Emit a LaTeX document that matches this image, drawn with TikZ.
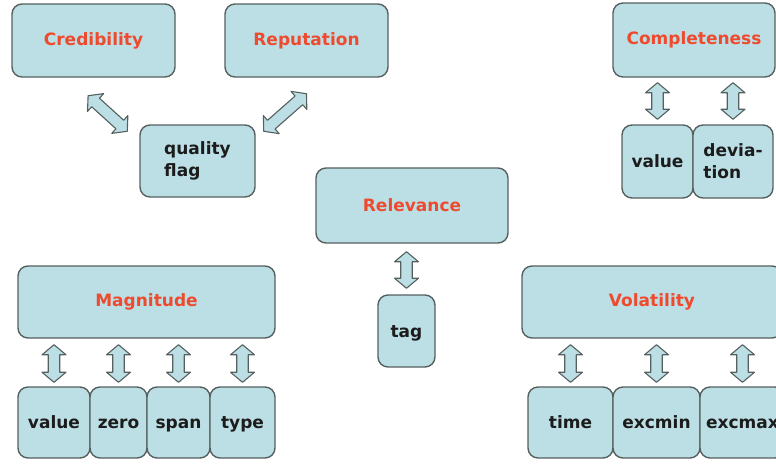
\documentclass[tikz,border=0pt]{standalone}
\usepackage{fontspec}
\setmainfont{DejaVu Sans}
\usetikzlibrary{calc,shapes.arrows}
\definecolor{boxfill}{HTML}{BCDFE5}
\definecolor{boxline}{HTML}{55605F}
\definecolor{titlered}{HTML}{EE4A2E}
\definecolor{darktext}{HTML}{1C1C1C}
\tikzset{
  box/.style={draw=boxline, fill=boxfill, line width=1.4pt, rounded corners=10pt,
    inner sep=0pt, font=\fontsize{17}{22}\selectfont\bfseries, text=darktext},
  onebox/.style={box, text height=12.5pt, text depth=-1pt},
  titlebox/.style={box, text=titlered},
  darrow/.style={double arrow, draw=boxline, fill=boxfill, line width=1.1pt,
    inner xsep=0pt, inner ysep=5pt, minimum width=24pt, double arrow head extend=6pt,
    double arrow tip angle=100, line join=round}
}
\newcommand\link[2]{\path let \p1=(#1), \p2=(#2),
  \n1={atan2(\y2-\y1,\x2-\x1)}, \n2={veclen(\x2-\x1,\y2-\y1)} in
  node[darrow, rotate=\n1, minimum height=\n2] at ($(#1)!0.5!(#2)$) {};}
\begin{document}
\begin{tikzpicture}[x=1pt,y=-1pt]
\useasboundingbox (0,0) rectangle (776,464);
\begin{scope}
\clip (0,0) rectangle (776,464);
% top-left group
\node[titlebox, minimum width=163pt, minimum height=73pt] (cred) at (93.5,40.5) {Credibility};
\node[titlebox, minimum width=163pt, minimum height=73pt] (rep) at (306.5,40.5) {Reputation};
\node[box, minimum width=115pt, minimum height=72pt, align=left] (qf) at (197.5,161) {quality\\flag};
% completeness group
\node[titlebox, minimum width=162pt, minimum height=74pt] (comp) at (694,40) {Completeness};
\node[onebox, minimum width=71pt, minimum height=73pt] (cval) at (657.5,161.5) {value};
\node[box, minimum width=80pt, minimum height=73pt, align=left] (cdev) at (733,161.5) {devia-\\tion};
% relevance group
\node[titlebox, minimum width=192pt, minimum height=75pt] (rel) at (412,205.5) {Relevance};
\node[onebox, minimum width=57pt, minimum height=72pt] (tag) at (406.5,331) {tag};
% magnitude group
\node[titlebox, minimum width=257pt, minimum height=72pt] (mag) at (146.5,302) {Magnitude};
\node[onebox, minimum width=72pt, minimum height=71pt] (mv) at (54,422.5) {value};
\node[onebox, minimum width=57pt, minimum height=71pt] (mz) at (118.5,422.5) {zero};
\node[onebox, minimum width=63pt, minimum height=71pt] (ms) at (178.5,422.5) {span};
\node[onebox, minimum width=65pt, minimum height=71pt] (mt) at (242.5,422.5) {type};
% volatility group
\node[titlebox, minimum width=260pt, minimum height=72pt] (vol) at (652,302) {Volatility};
\node[onebox, minimum width=85pt, minimum height=71pt] (vt) at (570.5,422.5) {time};
\node[onebox, minimum width=87pt, minimum height=71pt] (vmin) at (656.5,422.5) {excmin};
\node[onebox, minimum width=85pt, minimum height=71pt] (vmax) at (742.5,422.5) {excmax};
% arrow end points
\coordinate (c1a) at ($(cred.south west)!0.467!(cred.south east)+(0,18)$);
\coordinate (c1b) at ($(qf.north west)+(-12,7)$);
\coordinate (r1a) at ($(rep.south west)!0.5!(rep.south east)+(0,16)$);
\coordinate (r1b) at ($(qf.north east)+(8,7)$);
\foreach \n in {cval,cdev}{
  \coordinate (\n a) at ($(comp.south -| \n.north)+(0,5)$);
  \coordinate (\n b) at ($(\n.north)+(0,-5)$);
}
\coordinate (rela) at ($(rel.south -| tag.north)+(0,8)$);
\coordinate (relb) at ($(tag.north)+(0,-6)$);
\foreach \n in {mv,mz,ms,mt}{
  \coordinate (\n a) at ($(mag.south -| \n.north)+(0,6)$);
  \coordinate (\n b) at ($(\n.north)+(0,-4)$);
}
\foreach \n in {vt,vmin,vmax}{
  \coordinate (\n a) at ($(vol.south -| \n.north)+(0,6)$);
  \coordinate (\n b) at ($(\n.north)+(0,-4)$);
}
\end{scope}
% connectors
\link{c1a}{c1b}
\link{r1a}{r1b}
\link{cvala}{cvalb}
\link{cdeva}{cdevb}
\link{rela}{relb}
\link{mva}{mvb}
\link{mza}{mzb}
\link{msa}{msb}
\link{mta}{mtb}
\link{vta}{vtb}
\link{vmina}{vminb}
\link{vmaxa}{vmaxb}
\end{tikzpicture}
\end{document}
